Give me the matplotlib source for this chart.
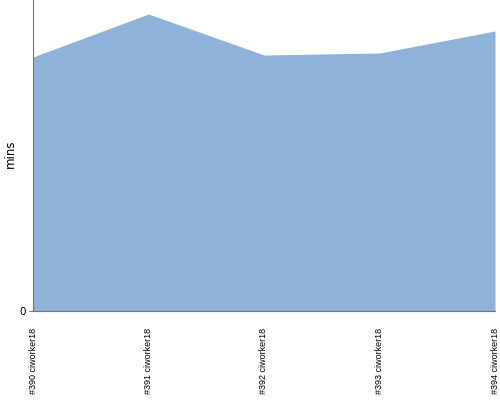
import matplotlib
matplotlib.use("Agg")
import matplotlib.pyplot as plt

builds = ["#390 ciworker18", "#391 ciworker18", "#392 ciworker18", "#393 ciworker18", "#394 ciworker18"]
mins = [254, 297, 256, 258, 280]

fig = plt.figure(figsize=(5, 4), dpi=100)
ax = fig.add_axes([0.066, 0.2225, 0.924, 0.7775])
x = list(range(len(builds)))
ax.fill_between(x, mins, 0, color="#8fb2da", linewidth=0)
ax.set_xlim(0, len(builds) - 1)
ax.set_ylim(0, 311)
ax.set_xticks(x)
ax.set_xticklabels(builds, rotation=90, fontsize=6.5, family="Liberation Sans")
ax.set_yticks([0])
ax.set_yticklabels(["0"], fontsize=7.5)
ax.set_ylabel("mins", fontsize=8.5, va="center")
ax.yaxis.set_label_coords(-0.05, 0.505)
for s in ["top", "right"]:
    ax.spines[s].set_visible(False)
for s in ["left", "bottom"]:
    ax.spines[s].set_color("#777777")
    ax.spines[s].set_linewidth(0.8)
ax.tick_params(axis="x", length=0, pad=12)
ax.tick_params(axis="y", length=3, color="#777777", pad=2)
fig.savefig("out.png", dpi=100)
